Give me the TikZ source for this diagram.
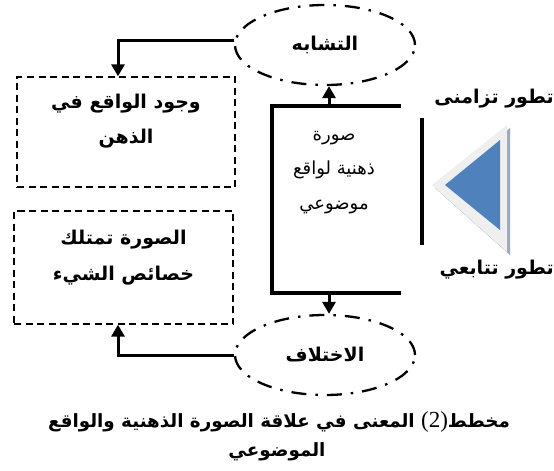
\documentclass[tikz,border=0pt]{standalone}
\usepackage{fontspec}
\usetikzlibrary{shapes.geometric,arrows.meta}
\TeXXeTstate=1
\newfontfamily\arabicfont[Script=Arabic]{DejaVu Sans}
\newfontfamily\latinserif{Liberation Serif}
\definecolor{triblue}{HTML}{4F81BD}
\definecolor{trilight}{HTML}{EFEFEF}
\definecolor{trishade}{HTML}{9AA8BA}
\tikzset{
  relation/.style={ellipse, draw, line width=2.3pt,
    dash pattern=on 15pt off 9pt on 2.5pt off 9pt,
    minimum width=180pt, minimum height=80pt, inner sep=0pt,
    font=\arabicfont\bfseries\fontsize{19}{22}\selectfont},
  outcome/.style={rectangle, draw, line width=1.3pt,
    dash pattern=on 7pt off 4.5pt, inner sep=0pt},
  boxtext/.style={anchor=base, inner sep=0pt,
    font=\arabicfont\bfseries\fontsize{19}{22}\selectfont},
  imgtext/.style={anchor=base, inner sep=0pt,
    font=\arabicfont\fontsize{18}{22}\selectfont},
  conn/.style={line width=3pt, -{Triangle[length=12pt,width=13pt]}},
  thickline/.style={line width=3.5pt},
  sidelabel/.style={anchor=base east, inner sep=0pt,
    font=\arabicfont\bfseries\fontsize{19}{22}\selectfont},
  caption/.style={anchor=base, inner sep=0pt,
    font=\arabicfont\bfseries\fontsize{18.3}{22}\selectfont}
}
\begin{document}
\begin{tikzpicture}[x=1pt,y=-1pt]
\useasboundingbox (0,0) rectangle (554,471);

% the two relations
\node[relation] (sim) at (325,45) {\beginR التشابه\endR};
\node[relation] (diff) at (325,355) {\beginR الاختلاف\endR};

% the two outcomes
\node[outcome, minimum width=218pt, minimum height=110pt] (real) at (126,132) {};
\node[boxtext] (real1) at (126,108) {\beginR وجود الواقع في\endR};
\node[boxtext] (real2) at (126,143) {\beginR الذهن\endR};
\node[outcome, minimum width=219pt, minimum height=113pt] (prop) at (123.5,267.5) {};
\node[boxtext] (prop1) at (123.5,244) {\beginR الصورة تمتلك\endR};
\node[boxtext] (prop2) at (123.5,280) {\beginR خصائص الشيء\endR};

% bracket holding the mental image
\coordinate (bTR) at (401,106);
\coordinate (bTL) at (272,106);
\coordinate (bBL) at (272,293);
\coordinate (bBR) at (401,293);
\coordinate (bTop) at (329,106);
\coordinate (bBot) at (329,293);
\draw[thickline] (bTR) -- (bTL) -- (bBL) -- (bBR);
\node[imgtext] (img1) at (334,140) {\beginR صورة\endR};
\node[imgtext] (img2) at (334,174) {\beginR ذهنية لواقع\endR};
\node[imgtext] (img3) at (334,209) {\beginR موضوعي\endR};

% connectors
\draw[conn] (bTop) -- (bTop |- sim.south);
\draw[conn] (bBot) -- (bBot |- diff.north);
\draw[conn] (sim.177) -| ([xshift=-8pt]real.north);
\draw[conn] (diff.west) -| ([xshift=-5.5pt]prop.south);

% development axis
\coordinate (axT) at (422,118);
\coordinate (axB) at (422,245);
\draw[thickline] (axT) -- (axB);
\fill[trishade] (435,188) -- (510,128) -- (510,255) -- cycle;
\fill[trilight] (432,185) -- (507,125) -- (507,252) -- cycle;
\fill[triblue] (445,185) -- (500,140) -- (500,230) -- cycle;
\node[sidelabel] (sync) at (554,103) {\beginR تطور تزامنى\endR};
\node[sidelabel] (seq) at (554,274) {\beginR تطور تتابعي\endR};

% caption
\node[caption] (cap1) at (279,427)
  {\beginR مخطط\beginL{\latinserif\mdseries\fontsize{23}{24}\selectfont(2)}\endL{} المعنى في علاقة الصورة الذهنية والواقع\endR};
\node[caption] (cap2) at (277,456) {\beginR الموضوعي\endR};
\end{tikzpicture}
\end{document}
